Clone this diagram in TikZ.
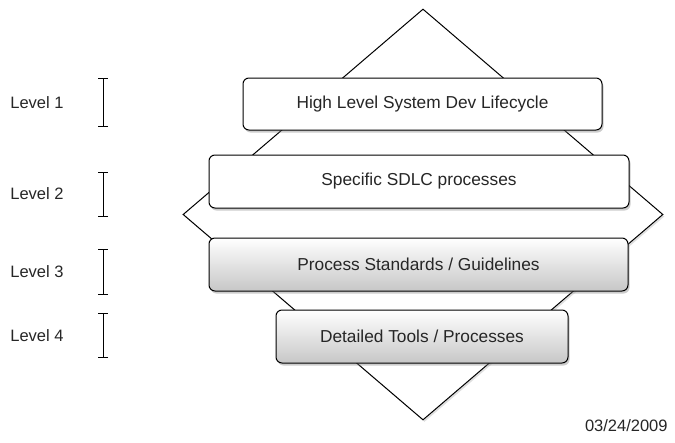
\documentclass[tikz,border=0pt]{standalone}
\usepackage{fontspec}
\setmainfont{Liberation Sans}
\usetikzlibrary{positioning}
\usetikzlibrary{arrows.meta}
\usetikzlibrary{shapes.geometric}
\usetikzlibrary{shadows}

\begin{document}
\begin{tikzpicture}[x=1pt,y=-1pt,thick,
                    font=\fontsize{16.5}{20}\selectfont,
                    box/.style={rectangle,draw,rounded corners=6pt,fill=white,
                      line width=1pt,text=black!85,font=\fontsize{17.3}{20}\selectfont,
                      drop shadow={opacity=0.4,shadow xshift=1.5pt,shadow yshift=-2.5pt}},
                    grey box/.style={box,top color=white,bottom color=black!22},
                    bar/.style={line width=1pt,{Bar[width=10pt]}-{Bar[width=10pt]}}]
      \useasboundingbox (0,0) rectangle (675,442);

      \node[diamond,draw,line width=1pt,inner sep=0pt,minimum width=480pt,
            minimum height=411pt,fill=white,
            drop shadow={opacity=0.25,shadow xshift=1.5pt,shadow yshift=-2pt}] (0) at (423,214.5) {};

      \node[box,minimum width=359pt,minimum height=52pt] (1) at (422.5,104) {High Level System Dev Lifecycle};
      \node[box,minimum width=420pt,minimum height=53pt] (2) at (419,181.5) {Specific SDLC processes};
      \node[grey box,minimum width=419pt,minimum height=53pt] (3) at (418.5,264.5) {Process Standards / Guidelines};
      \node[grey box,minimum width=292pt,minimum height=53pt] (4) at (422,336.5) {Detailed Tools / Processes};

      \foreach \n/\t/\b/\m in {1/78/127/103,2/172/217/194,3/249/295/272,4/313/358/336}
      {
        \coordinate (t\n) at (103,\t);
        \coordinate (b\n) at (103,\b);
        \draw[bar] (t\n) -- (b\n);
        \node[anchor=west,text=black!85,inner sep=0pt] (l\n) at (10,\m) {Level \n};
      }

      \node[anchor=east,text=black!85,inner sep=0pt] (date) at (668,426) {03/24/2009};
\end{tikzpicture}
\end{document}
